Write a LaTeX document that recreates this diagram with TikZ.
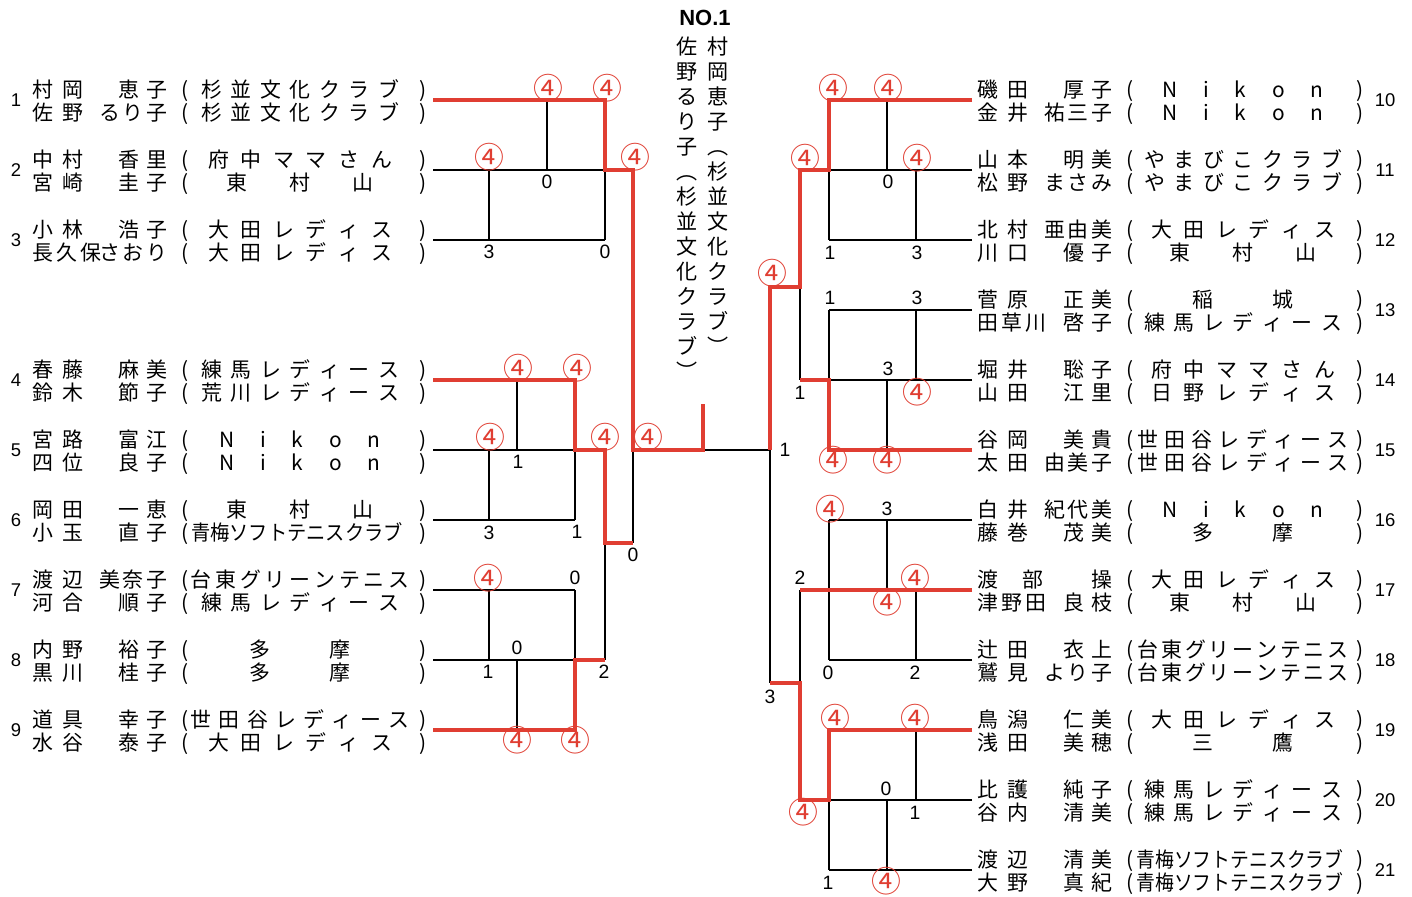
\documentclass[tikz,border=0pt]{standalone}
\usepackage{fontspec}
\usepackage{graphicx}
\setmainfont{Noto Sans CJK JP}
\newfontfamily\latf{Liberation Sans}
\definecolor{bred}{RGB}{224,62,50}
\newdimen\pxu \pxu=0.02cm
\newcount\entcnt
\def\cntTok#1{\entcnt=0 \cntTokA#1\relax}
\def\cntTokA#1{\ifx#1\relax\else\advance\entcnt by 1 \expandafter\cntTokA\fi}
\def\spreadtoks#1{\spreadF#1\relax}
\def\spreadF#1{\ifx#1\relax\else#1\expandafter\spreadR\fi}
\def\spreadR#1{\ifx#1\relax\else\hfil#1\expandafter\spreadR\fi}
\tikzset{
 txt/.style={inner sep=0pt, font=\fontsize{11.9}{14}\selectfont},
 blk/.style={draw=black, line width=0.9pt},
 rl/.style={draw=bred, line width=1.9pt},
 num/.style={inner sep=0pt, font=\latf\fontsize{10.5}{12}\selectfont},
 sc/.style={inner sep=0pt, font=\latf\fontsize{11}{12}\selectfont},
 w4/.style={inner sep=0pt, text=bred, font=\fontsize{17}{18}\selectfont},
 vch/.style={inner sep=0pt, anchor=base, font=\fontsize{12}{13}\selectfont},
 ttl/.style={inner sep=0pt, font=\latf\bfseries\fontsize{12.5}{13}\selectfont},
}
% one text line: id, x0, y centre, family, given, club
\newcommand\bline[6]{%
 \cntTok{#4}\edef\entnf{\the\entcnt}%
 \cntTok{#5}\edef\entng{\the\entcnt}%
 \cntTok{#6}\edef\entnc{\the\entcnt}%
 \ifnum\entnf=3 \def\entgf{24}\else\def\entgf{30}\fi
 \ifnum\entng=1 \def\entgf{45}\fi
 \ifnum\entng=3 \def\entgg{23.5}\else\def\entgg{28}\fi
 \ifcase\entnc\def\entsc{0}\or\def\entsc{0}\or\def\entsc{80}\or\def\entsc{126}\or\def\entsc{130}\or\def\entsc{140}\or\def\entsc{163}\or\def\entsc{177}\else\def\entsc{\maxsp}\fi
 \pgfmathsetmacro\entwf{(\entnf-1)*\entgf+21}%
 \pgfmathsetmacro\entwg{(\entng-1)*\entgg+21}%
 \pgfmathsetmacro\entwc{\entsc+21}%
 \def\entsh{0}%
 \def\entclub{\hbox to \entwc\pxu{\spreadtoks{#6}}}%
 \ifnum\entnc>10 \def\entsh{-3}\def\entclub{\scalebox{\sqz}[1]{#6}}\fi
 \node[txt,anchor=base west] (#1f) at (#2-10.5,#3+8) {\hbox to \entwf\pxu{\spreadtoks{#4}}};%
 \node[txt,anchor=base east] (#1g) at (#2+124.5,#3+8) {\hbox to \entwg\pxu{\spreadtoks{#5}}};%
 \node[txt,anchor=base] (#1o) at (#2+142,#3+8) {(};%
 \node[txt,anchor=base] (#1c) at (#2+\clubc+\entsh,#3+8) {\entclub};%
 \node[txt,anchor=base] (#1p) at (#2+\closeoff,#3+8) {)};%
}
% one entry (pair): number, x0, row y, fam1, giv1, club1, fam2, giv2, club2
\newcommand\bent[9]{%
 \bline{e#1a}{#2}{#3-11}{#4}{#5}{#6}%
 \bline{e#1b}{#2}{#3+12}{#7}{#8}{#9}%
 \node[num] (n#1) at (\numx,#3) {#1};%
 \coordinate (\rowpre#1) at (\rowx,#3);%
}
\begin{document}
\begin{tikzpicture}[x=0.02cm,y=-0.02cm]
\fill[white] (0,0) rectangle (1412,896);
\useasboundingbox (0,0) rectangle (1412,896);
% title
\node[ttl] (title) at (705,18) {NO.1};
\foreach \c [count=\i] in {村,岡,恵,子,︵,杉,並,文,化,ク,ラ,ブ,︶}
  \node[vch] (tA\i) at (718,{54+25*(\i-1)}) {\c};
\foreach \c [count=\i] in {佐,野,る,り,子,︵,杉,並,文,化,ク,ラ,ブ,︶}
  \node[vch] (tB\i) at (687,{54+25*(\i-1)}) {\c};
% left entries
\def\numx{16}\def\closeoff{380}\def\clubc{257}\def\maxsp{198}\def\sqz{0.92}\def\rowpre{l}\def\rowx{433}
\bent{1}{43}{100}{村岡}{恵子}{杉並文化クラブ}{佐野}{るり子}{杉並文化クラブ}
\bent{2}{43}{170}{中村}{香里}{府中ママさん}{宮崎}{圭子}{東村山}
\bent{3}{43}{240}{小林}{浩子}{大田レディス}{長久保}{さおり}{大田レディス}
\bent{4}{43}{380}{春藤}{麻美}{練馬レディース}{鈴木}{節子}{荒川レディース}
\bent{5}{43}{450}{宮路}{富江}{Nikon}{四位}{良子}{Nikon}
\bent{6}{43}{520}{岡田}{一恵}{東村山}{小玉}{直子}{青梅ソフトテニスクラブ}
\bent{7}{43}{590}{渡辺}{美奈子}{台東グリーンテニス}{河合}{順子}{練馬レディース}
\bent{8}{43}{660}{内野}{裕子}{多摩}{黒川}{桂子}{多摩}
\bent{9}{43}{730}{道具}{幸子}{世田谷レディース}{水谷}{泰子}{大田レディス}
% right entries
\def\numx{1385}\def\closeoff{372}\def\clubc{255}\def\maxsp{190}\def\sqz{0.9}\def\rowpre{r}\def\rowx{972}
\bent{10}{988}{100}{磯田}{厚子}{Nikon}{金井}{祐三子}{Nikon}
\bent{11}{988}{170}{山本}{明美}{やまびこクラブ}{松野}{まさみ}{やまびこクラブ}
\bent{12}{988}{240}{北村}{亜由美}{大田レディス}{川口}{優子}{東村山}
\bent{13}{988}{310}{菅原}{正美}{稲城}{田草川}{啓子}{練馬レディース}
\bent{14}{988}{380}{堀井}{聡子}{府中ママさん}{山田}{江里}{日野レディス}
\bent{15}{988}{450}{谷岡}{美貴}{世田谷レディース}{太田}{由美子}{世田谷レディース}
\bent{16}{988}{520}{白井}{紀代美}{Nikon}{藤巻}{茂美}{多摩}
\bent{17}{988}{590}{渡部}{操}{大田レディス}{津野田}{良枝}{東村山}
\bent{18}{988}{660}{辻田}{衣上}{台東グリーンテニス}{鷲見}{より子}{台東グリーンテニス}
\bent{19}{988}{730}{鳥潟}{仁美}{大田レディス}{浅田}{美穂}{三鷹}
\bent{20}{988}{800}{比護}{純子}{練馬レディース}{谷内}{清美}{練馬レディース}
\bent{21}{988}{870}{渡辺}{清美}{青梅ソフトテニスクラブ}{大野}{真紀}{青梅ソフトテニスクラブ}
% column and row references
\foreach \c in {489,517,547,575,605,633,703,770,800,829,887,916}
  \coordinate (x\c) at (\c,0);
\foreach \c in {287,404,543,683}
  \coordinate (y\c) at (0,\c);
% black lines
\draw[blk] (l2) -- (l2 -| x605) (l3) -- (l3 -| x605)
  (x547 |- l1) -- (x547 |- l2) (x489 |- l2) -- (x489 |- l3) (x605 |- l2) -- (x605 |- l3);
\draw[blk] (l5) -- (l5 -| x575) (l6) -- (l6 -| x575)
  (x517 |- l4) -- (x517 |- l5) (x489 |- l5) -- (x489 |- l6) (x575 |- l5) -- (x575 |- l6)
  (x633 |- l5) -- (x633 |- y543);
\draw[blk] (l7) -- (l7 -| x575) (l8) -- (l8 -| x575)
  (x489 |- l7) -- (x489 |- l8) (x517 |- l8) -- (x517 |- l9) (x575 |- l7) -- (x575 |- l8)
  (x605 |- y543) -- (x605 |- l8);
\draw[blk] (x703 |- l5) -- (x770 |- l5) -- (x770 |- y683);
\draw[blk] (r11) -- (r11 -| x829) (r12) -- (r12 -| x829)
  (x887 |- r10) -- (x887 |- r11) (x916 |- r11) -- (x916 |- r12) (x829 |- r11) -- (x829 |- r12)
  (x800 |- y287) -- (x800 |- r14);
\draw[blk] (r13) -- (r13 -| x829) (r14) -- (r14 -| x829)
  (x916 |- r13) -- (x916 |- r14) (x887 |- r14) -- (x887 |- r15) (x829 |- r13) -- (x829 |- r14);
\draw[blk] (r16) -- (r16 -| x829) (r18) -- (r18 -| x829)
  (x887 |- r16) -- (x887 |- r17) (x916 |- r17) -- (x916 |- r18) (x829 |- r16) -- (x829 |- r18)
  (x800 |- r17) -- (x800 |- y683);
\draw[blk] (r20) -- (r20 -| x829) (r21) -- (r21 -| x829)
  (x916 |- r19) -- (x916 |- r20) (x887 |- r20) -- (x887 |- r21) (x829 |- r20) -- (x829 |- r21);
% red (winning) lines
\draw[rl] (l1) -- (l1 -| x605) -- (x605 |- l2) -- (x633 |- l2) -- (x633 |- l5) -- (x703 |- l5) -- (x703 |- y404);
\draw[rl] (l4) -- (l4 -| x575) -- (x575 |- l5) -- (x605 |- l5) -- (x605 |- y543) -- (x633 |- y543);
\draw[rl] (l9) -- (l9 -| x575) -- (x575 |- l8) -- (x605 |- l8);
\draw[rl] (r10) -- (r10 -| x829) -- (x829 |- r11) -- (x800 |- r11) -- (x800 |- y287) -- (x770 |- y287) -- (x770 |- l5);
\draw[rl] (r15) -- (r15 -| x829) -- (x829 |- r14) -- (x800 |- r14);
\draw[rl] (r17) -- (r17 -| x800);
\draw[rl] (r19) -- (r19 -| x829) -- (x829 |- r20) -- (x800 |- r20) -- (x800 |- y683) -- (x770 |- y683);
% scores
\foreach \x/\y/\t [count=\i] in {547/182/0,489/252/3,605/252/0,518/462/1,489/533/3,577/532/1,
  575/578/0,517/648/0,488/672/1,604/672/2,633/555/0,
  888/182/0,830/253/1,917/253/3,830/298/1,917/298/3,888/369/3,800/393/1,785/450/1,
  887/509/3,800/578/2,828/673/0,915/673/2,770/697/3,886/789/0,915/813/1,828/883/1}
  \node[sc] (s\i) at (\x,\y) {\t};
\foreach \x/\y [count=\i] in {548/88,489/157,607/88,635/157,518/368,577/368,490/437,605/437,648/437,
  488/578,517/740,575/740,
  833/88,888/88,805/158,917/158,772/273,917/392,833/460,887/460,830/509,915/578,887/602,
  835/718,915/718,803/812,886/881}
  \node[w4] (w\i) at (\x,\y) {④};
\end{tikzpicture}
\end{document}
